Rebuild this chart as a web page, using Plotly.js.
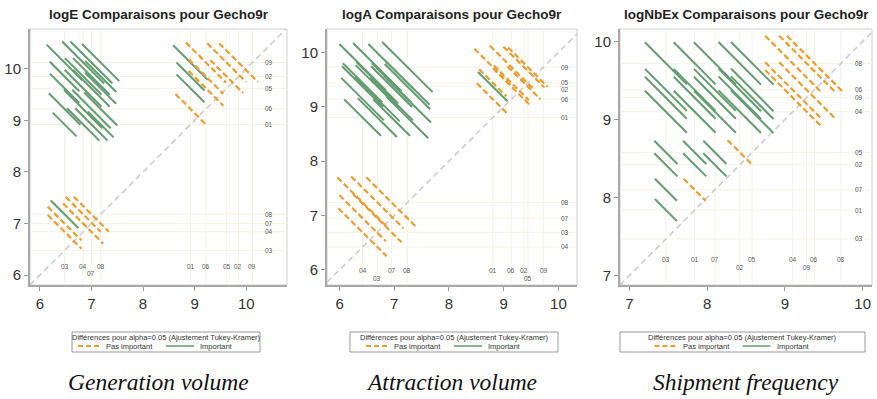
<!DOCTYPE html>
<html><head><meta charset="utf-8">
<script src="https://cdn.plot.ly/plotly-3.0.1.min.js"></script>
<style>html,body{margin:0;padding:0;background:#fff;} #chart{width:877px;height:399px;}</style>
</head><body><div id="chart"></div>
<script>
// ---------------- DATA ----------------
const groups = ['01','02','03','04','05','06','07','08','09'];

// Generation volume (logE): group means and confidence half-widths
const logE_means = [8.92, 9.85, 6.48, 6.84, 9.62, 9.22, 7.00, 7.18, 10.12];
const logE_ciw   = [0.30, 0.45, 0.35, 0.55, 0.45, 0.50, 0.55, 0.40, 0.60];
const logE_notSig = ['01-06','02-06','05-06','06-09','02-05','05-09','02-09','03-04','03-07','04-07','04-08','07-08'];

// Attraction volume (logA)
const logA_means = [8.80, 9.37, 6.69, 6.42, 9.44, 9.14, 6.95, 7.24, 9.73];
const logA_ciw   = [0.30, 0.45, 0.65, 0.60, 0.40, 0.50, 0.60, 0.70, 0.60];
const logA_notSig = ['01-05','01-06','01-09','02-05','02-06','02-09','05-06','05-09','06-09','03-04','03-07','03-08','04-07','04-08','07-08'];

// Shipment frequency (logNbEx)
const logNbEx_means = [7.84, 8.42, 7.47, 9.10, 8.58, 9.38, 8.10, 9.72, 9.28];
const logNbEx_ciw   = [0.20, 0.22, 0.20, 0.50, 0.22, 0.50, 0.20, 0.50, 0.50];
const logNbEx_notSig = ['01-07','02-05','04-09','04-06','04-08','06-09','08-09','06-08'];

const titles = ['logE Comparaisons pour Gecho9r','logA Comparaisons pour Gecho9r','logNbEx Comparaisons pour Gecho9r'];
const captions = ['Generation volume','Attraction volume','Shipment frequency'];
const tickValues = [[6,7,8,9,10],[6,7,8,9,10],[7,8,9,10]];
const legendTitle = 'Différences pour alpha=0.05 (Ajustement Tukey-Kramer)';
const legendNames = ['Pas important','Important'];

// ---------------- LAYOUT CONFIG ----------------
const W = 877, H = 399;
const ORANGE = '#E99D32', GREEN = '#639C70';
const cfg = [
  {means:logE_means, ciw:logE_ciw, notSig:logE_notSig, lower:['07'],
   xr:[5.81,10.79], yr:[5.81,10.77], px:[30,287], rightX:0.93, botY:[0.073,0.043], box:[72,260]},
  {means:logA_means, ciw:logA_ciw, notSig:logA_notSig, lower:['03','05'],
   xr:[5.77,10.34], yr:[5.72,10.43], px:[327,577], rightX:0.95, botY:[0.056,0.026], box:[350,558]},
  {means:logNbEx_means, ciw:logNbEx_ciw, notSig:logNbEx_notSig, lower:['02','09'],
   xr:[6.88,10.12], yr:[6.88,10.16], px:[620,872], rightX:0.95, botY:[0.098,0.068], box:[620,865]}
];
const plotTop = 29, plotBot = 285;
const fx = p => p / W, fy = p => 1 - p / H;

const traces = [], shapes = [], annotations = [];
const layout = {width:W, height:H, margin:{l:0,r:0,t:0,b:0}, showlegend:false,
  paper_bgcolor:'#fff', plot_bgcolor:'#fff', font:{family:'Liberation Sans, Arial, sans-serif', color:'#333'}};

cfg.forEach((c, k) => {
  const sx = k === 0 ? '' : String(k + 1);
  const xa = 'x' + sx, ya = 'y' + sx;
  const axBase = {showgrid:false, zeroline:false, showline:true, linecolor:'#a8a8a8', linewidth:2,
    ticks:'outside', ticklen:4, tickcolor:'#999', tickwidth:1, tickfont:{size:15, color:'#333'},
    tickvals:tickValues[k], fixedrange:true};
  layout['xaxis' + sx] = Object.assign({}, axBase, {domain:[fx(c.px[0]), fx(c.px[1])], range:c.xr, anchor:ya});
  layout['yaxis' + sx] = Object.assign({}, axBase, {domain:[fy(plotBot), fy(plotTop)], range:c.yr, anchor:xa});

  // frame
  shapes.push({type:'rect', xref:xa+' domain', yref:ya+' domain', x0:0, x1:1, y0:0, y1:1,
    line:{color:'#cfcfcf', width:1}, layer:'below'});
  // reference lines at each group mean
  c.means.forEach(m => {
    shapes.push({type:'line', xref:xa, yref:ya+' domain', x0:m, x1:m, y0:0, y1:1, line:{color:'#f5f1e4', width:1}, layer:'below'});
    shapes.push({type:'line', xref:xa+' domain', yref:ya, x0:0, x1:1, y0:m, y1:m, line:{color:'#f5f1e4', width:1}, layer:'below'});
  });
  // diagonal
  const lo = Math.max(c.xr[0], c.yr[0]), hi = Math.min(c.xr[1], c.yr[1]);
  traces.push({x:[lo,hi], y:[lo,hi], xaxis:xa, yaxis:ya, mode:'lines', hoverinfo:'skip',
    line:{color:'#cdcdcd', width:1.6, dash:'6px,4px'}});

  // diffogram segments
  const g = {x:[],y:[]}, o = {x:[],y:[]};
  for (let i = 0; i < groups.length; i++) for (let j = i + 1; j < groups.length; j++) {
    const a = c.means[i] <= c.means[j] ? i : j, b = a === i ? j : i;
    const half = Math.sqrt(c.ciw[i]**2 + c.ciw[j]**2) / 2;
    const cx = c.means[a], cy = c.means[b];
    const t = c.notSig.includes(groups[i] + '-' + groups[j]) ? o : g;
    t.x.push(cx - half, cx + half, null); t.y.push(cy + half, cy - half, null);
  }
  traces.push({x:g.x, y:g.y, xaxis:xa, yaxis:ya, mode:'lines', connectgaps:false, hoverinfo:'skip',
    line:{color:GREEN, width:2}});
  traces.push({x:o.x, y:o.y, xaxis:xa, yaxis:ya, mode:'lines', connectgaps:false, hoverinfo:'skip',
    line:{color:ORANGE, width:2.2, dash:'6px,3px'}});

  // right-side group labels, spread so they do not collide (min 7 px apart)
  const pxPerUnit = (plotBot - plotTop) / (c.yr[1] - c.yr[0]);
  const order = groups.map((gname, i) => ({gname, m:c.means[i]})).sort((p, q) => q.m - p.m);
  let prevPy = -1e9;
  order.forEach(p => {
    let py = plotTop + (c.yr[1] - p.m) * pxPerUnit;
    if (py < prevPy + 7) py = prevPy + 7;
    prevPy = py;
    const yv = c.yr[1] - (py - plotTop) / pxPerUnit;
    annotations.push({xref:xa+' domain', yref:ya, x:c.rightX, y:yv, text:p.gname, showarrow:false,
      font:{size:6.5, color:'#555'}, xanchor:'center', yanchor:'middle'});
  });
  // bottom group labels
  groups.forEach((gname, i) => {
    const row = c.lower.includes(gname) ? 1 : 0;
    annotations.push({xref:xa, yref:ya+' domain', x:c.means[i], y:c.botY[row], text:gname, showarrow:false,
      font:{size:6.5, color:'#555'}, xanchor:'center', yanchor:'middle'});
  });

  // title
  const cxp = (c.px[0] + c.px[1]) / 2;
  annotations.push({xref:'paper', yref:'paper', x:fx(cxp), y:fy(14), text:'<b>' + titles[k] + '</b>',
    showarrow:false, font:{size:13.5, color:'#222'}, xanchor:'center', yanchor:'middle'});

  // legend box
  const bx0 = c.box[0], bx1 = c.box[1], bc = (bx0 + bx1) / 2;
  shapes.push({type:'rect', xref:'paper', yref:'paper', x0:fx(bx0), x1:fx(bx1), y0:fy(352), y1:fy(332),
    line:{color:'#999', width:1}});
  annotations.push({xref:'paper', yref:'paper', x:fx(bc), y:fy(337.5), text:legendTitle, showarrow:false,
    font:{size:7.5, color:'#333'}, xanchor:'center', yanchor:'middle'});
  const s = bc - 88;
  shapes.push({type:'line', xref:'paper', yref:'paper', x0:fx(s), x1:fx(s + 22), y0:fy(346), y1:fy(346),
    line:{color:ORANGE, width:2, dash:'5px,3px'}});
  annotations.push({xref:'paper', yref:'paper', x:fx(s + 26), y:fy(346), text:legendNames[0], showarrow:false,
    font:{size:7.5, color:'#333'}, xanchor:'left', yanchor:'middle'});
  shapes.push({type:'line', xref:'paper', yref:'paper', x0:fx(s + 88), x1:fx(s + 116), y0:fy(346), y1:fy(346),
    line:{color:GREEN, width:1.5}});
  annotations.push({xref:'paper', yref:'paper', x:fx(s + 120), y:fy(346), text:legendNames[1], showarrow:false,
    font:{size:7.5, color:'#333'}, xanchor:'left', yanchor:'middle'});

  // caption
  annotations.push({xref:'paper', yref:'paper', x:fx(cxp), y:fy(382), text:'<i>' + captions[k] + '</i>',
    showarrow:false, font:{size:23.5, family:'Liberation Serif, Times New Roman, serif', color:'#111'},
    xanchor:'center', yanchor:'middle'});
});

layout.shapes = shapes;
layout.annotations = annotations;
Plotly.newPlot('chart', traces, layout, {staticPlot:true, displayModeBar:false});
</script>
</body></html>
